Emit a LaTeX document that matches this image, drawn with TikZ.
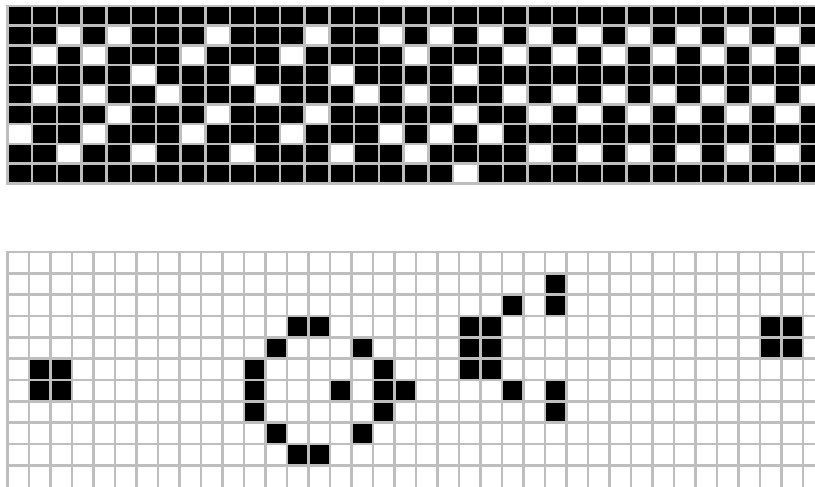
\documentclass[tikz,border=0pt]{standalone}
\definecolor{gridgray}{HTML}{BEBEBE}
\begin{document}
\begin{tikzpicture}[x=1pt,y=-1pt,
  gridline/.style={draw=gridgray,line width=2.4pt,line cap=rect},
  deadcell/.style={fill=white},
  livecell/.style={fill=black}]
\useasboundingbox (0,0) rectangle (815,487);
\clip (0,0) rectangle (815,487);
% ---------- top grid: 9 rows, cells 24.77 x 19.7 ----------
\fill[livecell] (7.3,6) rectangle (815,183.3);
\foreach \r/\cols in {
  1/{2,4,8,12,15,17,19,21,23,25,27,29,31},
  2/{1,3,7,11,16,20,22,24,26,28,30,32},
  3/{5,9,13,18},
  4/{1,3,6,10,14,16,20,22,24,26,28,30,32},
  5/{4,8,12,18,21,23,25,27,29,31},
  6/{0,3,7,11,15,17,19},
  7/{2,5,9,13,16,21,23,25,27,29,31},
  8/{18}} {
  \foreach \c in \cols {
    \fill[deadcell] ({7.3+\c*24.77},{6+\r*19.7}) rectangle +(24.77,19.7);
  }
}
\foreach \k in {0,...,33} {
  \draw[gridline] ({7.3+\k*24.77},6) -- ({7.3+\k*24.77},183.3);
}
\foreach \k in {0,...,9} {
  \draw[gridline] (7.3,{6+\k*19.7}) -- (815,{6+\k*19.7});
}
% ---------- bottom grid: Gosper glider gun, cells 21.51 x 21.33 ----------
\foreach \r/\c in {1/25,2/23,2/25,3/13,3/14,3/21,3/22,3/35,3/36,
  4/12,4/16,4/21,4/22,4/35,4/36,5/1,5/2,5/11,5/17,5/21,5/22,
  6/1,6/2,6/11,6/15,6/17,6/18,6/23,6/25,7/11,7/17,7/25,
  8/12,8/16,9/13,9/14} {
  \fill[livecell] ({7.3+\c*21.51},{252+\r*21.33}) rectangle +(21.51,21.33);
}
\foreach \k in {0,...,38} {
  \draw[gridline] ({7.3+\k*21.51},252) -- ({7.3+\k*21.51},490);
}
\foreach \k in {0,...,10} {
  \draw[gridline] (7.3,{252+\k*21.33}) -- (818,{252+\k*21.33});
}
\end{tikzpicture}
\end{document}
